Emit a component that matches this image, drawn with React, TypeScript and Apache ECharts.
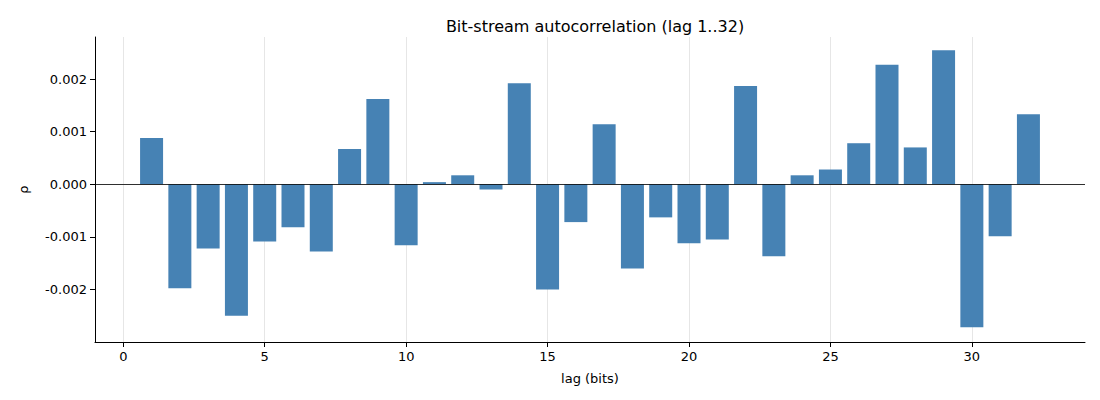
import React, { useEffect, useRef } from 'react';
import * as echarts from 'echarts';

const lags = Array.from({ length: 32 }, (_, i) => i + 1);
const rho = [
  0.00088, -0.00198, -0.00122, -0.0025, -0.00109, -0.00082, -0.00128, 0.00067,
  0.00162, -0.00116, 0.00004, 0.00017, -0.0001, 0.00192, -0.002, -0.00072,
  0.00114, -0.0016, -0.00063, -0.00112, -0.00105, 0.00187, -0.00137, 0.00017,
  0.00028, 0.00078, 0.00227, 0.0007, 0.00255, -0.00272, -0.00099, 0.00133
];
const xTicks = [0, 5, 10, 15, 20, 25, 30];

const App: React.FC = () => {
  const chartRef = useRef<HTMLDivElement>(null);

  useEffect(() => {
    if (!chartRef.current) return;
    const chart = echarts.init(chartRef.current, null, { renderer: 'svg' });
    const font = 'DejaVu Sans';
    const option: echarts.EChartsOption = {
      animation: false,
      textStyle: { fontFamily: font },
      title: {
        text: 'Bit-stream autocorrelation (lag 1..32)',
        left: 582,
        top: 5,
        textAlign: 'center',
        textStyle: { fontSize: 16, fontWeight: 'normal', color: '#000', fontFamily: font }
      },
      grid: { left: 87, right: 7, top: 29, bottom: 50 },
      xAxis: {
        type: 'value',
        min: -1,
        max: 34,
        name: 'lag (bits)',
        nameLocation: 'middle',
        nameGap: 30,
        nameTextStyle: { fontSize: 13, color: '#000' },
        axisLine: { onZero: false, lineStyle: { color: '#000' } },
        axisTick: { customValues: xTicks, lineStyle: { color: '#000' } },
        axisLabel: { customValues: xTicks, color: '#000', fontSize: 13 },
        splitLine: { show: false }
      },
      yAxis: {
        type: 'value',
        min: -0.003,
        max: 0.0028,
        interval: 0.001,
        name: 'ρ',
        nameLocation: 'middle',
        nameGap: 65,
        nameTextStyle: { fontSize: 13, color: '#000' },
        axisLine: { show: true, onZero: false, lineStyle: { color: '#000' } },
        axisTick: { show: true, customValues: [-0.002, -0.001, 0, 0.001, 0.002], lineStyle: { color: '#000' } },
        axisLabel: {
          color: '#000',
          fontSize: 13,
          formatter: (v: number) => (Math.abs(v) < 0.0025 ? v.toFixed(3) : '')
        },
        splitLine: { show: false }
      },
      series: [
        {
          type: 'line',
          data: [],
          silent: true,
          z: 0,
          markLine: {
            symbol: 'none',
            silent: true,
            z: 0,
            label: { show: false },
            lineStyle: { color: '#e6e6e6', type: 'solid', width: 1 },
            data: [
              ...xTicks.map((x) => ({ xAxis: x })),
              ...[-0.002, -0.001, 0.001, 0.002].map((y) => ({ yAxis: y }))
            ]
          }
        },
        {
          type: 'bar',
          data: lags.map((l, i) => [l, rho[i]]),
          barWidth: 23,
          itemStyle: { color: '#4682b4' },
          z: 3
        },
        {
          type: 'line',
          data: [],
          silent: true,
          z: 5,
          markLine: {
            symbol: 'none',
            silent: true,
            z: 5,
            label: { show: false },
            lineStyle: { color: '#000', type: 'solid', width: 0.8 },
            data: [{ yAxis: 0 }]
          }
        }
      ]
    };
    chart.setOption(option);
    return () => {
      chart.dispose();
    };
  }, []);

  return <div ref={chartRef} style={{ width: '1084px', height: '384px' }} />;
};

export default App;
